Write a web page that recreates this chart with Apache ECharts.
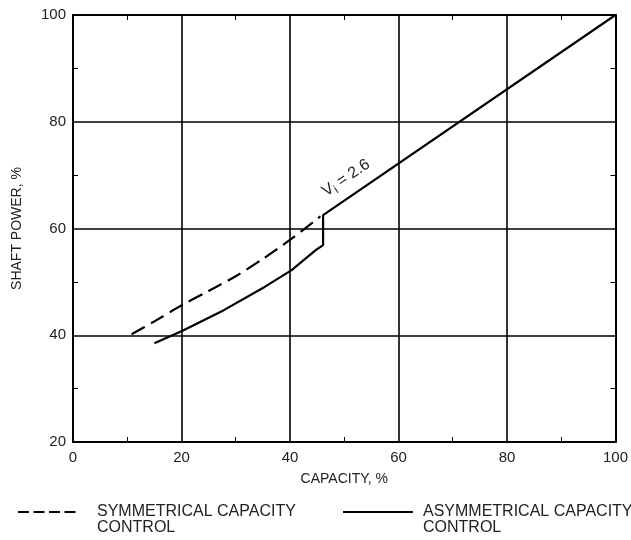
<!DOCTYPE html>
<html><head><meta charset="utf-8">
<script src="https://cdn.jsdelivr.net/npm/echarts@6/dist/echarts.min.js"></script>
<style>html,body{margin:0;padding:0;background:#fff}#c{width:631px;height:540px}</style>
</head><body><div id="c"></div>
<script>
const xTicks = [0, 20, 40, 60, 80, 100];
const yTicks = [20, 40, 60, 80, 100];
const symX = [10.8, 15, 20.2, 25, 29.9, 35, 40.3, 44.8, 45.6];
const symY = [40.2, 42.6, 45.7, 48.3, 51.0, 54.3, 58.1, 61.6, 62.3];
const asymX = [15.0, 20.1, 27.8, 35.4, 40.3, 44.8, 46.1, 46.1, 100];
const asymY = [38.5, 40.8, 44.7, 49.1, 52.2, 56.0, 56.9, 62.5, 100];

const font = 'Liberation Sans, Arial, sans-serif';
const chart = echarts.init(document.getElementById('c'));
const minorTick = {show: true, splitNumber: 2, length: -5, lineStyle: {color: '#000', width: 1}};
const axisCommon = {
  type: 'value', min: 0, max: 100, interval: 20,
  axisLine: {show: true, onZero: false, lineStyle: {color: '#000', width: 2}},
  axisTick: {show: false},
  minorTick: minorTick,
  minorSplitLine: {show: false}
};
chart.setOption({
  animation: false,
  grid: {left: 73, right: 11, top: 15, bottom: 98},
  xAxis: [
    Object.assign({}, axisCommon, {
      position: 'bottom',
      name: 'CAPACITY, %', nameLocation: 'middle', nameGap: 30,
      nameTextStyle: {fontFamily: font, fontSize: 14, color: '#222'},
      axisLabel: {fontFamily: font, fontSize: 15, color: '#222', margin: 8,
        formatter: v => xTicks.includes(v) ? String(v) : ''},
      splitLine: {show: true, lineStyle: {color: '#000', width: 1.6}}
    }),
    Object.assign({}, axisCommon, {position: 'top', axisLabel: {show: false}, splitLine: {show: false}})
  ],
  yAxis: [
    Object.assign({}, axisCommon, {
      min: 20, max: 100, position: 'left',
      name: 'SHAFT POWER, %', nameLocation: 'middle', nameGap: 49,
      nameTextStyle: {fontFamily: font, fontSize: 14, color: '#222'},
      axisLabel: {fontFamily: font, fontSize: 15, color: '#222', margin: 7,
        formatter: v => yTicks.includes(v) ? String(v) : ''},
      splitLine: {show: true, lineStyle: {color: '#000', width: 1.6}}
    }),
    Object.assign({}, axisCommon, {min: 20, max: 100, position: 'right', axisLabel: {show: false}, splitLine: {show: false}})
  ],
  series: [
    {type: 'line', name: 'SYMMETRICAL CAPACITY CONTROL', data: symX.map((x, i) => [x, symY[i]]),
      showSymbol: false, smooth: 0.3,
      lineStyle: {color: '#000', width: 2.2, type: [15, 7]}},
    {type: 'line', name: 'ASYMMETRICAL CAPACITY CONTROL', data: asymX.map((x, i) => [x, asymY[i]]),
      showSymbol: false,
      lineStyle: {color: '#000', width: 2.2}}
  ],
  graphic: [
    {type: 'text', x: 346, y: 178, rotation: 34 * Math.PI / 180,
      style: {text: '{a|V}{b|i}{a| = 2.6}', align: 'center', verticalAlign: 'middle',
        rich: {a: {fontFamily: font, fontSize: 16, fill: '#222'},
               b: {fontFamily: font, fontSize: 12, fill: '#222', padding: [9, 0, 0, 0]}}}},
    {type: 'line', shape: {x1: 18, y1: 512, x2: 76, y2: 512},
      style: {stroke: '#000', lineWidth: 2.2, lineDash: [11, 4.5]}},
    {type: 'text', x: 97, y: 504, style: {text: 'SYMMETRICAL CAPACITY\nCONTROL', fontFamily: font, fontSize: 16, lineHeight: 16, fill: '#222'}},
    {type: 'line', shape: {x1: 343, y1: 512, x2: 413, y2: 512},
      style: {stroke: '#000', lineWidth: 2.2}},
    {type: 'text', x: 423, y: 504, style: {text: 'ASYMMETRICAL CAPACITY\nCONTROL', fontFamily: font, fontSize: 16, lineHeight: 16, fill: '#222'}}
  ]
});
</script></body></html>
